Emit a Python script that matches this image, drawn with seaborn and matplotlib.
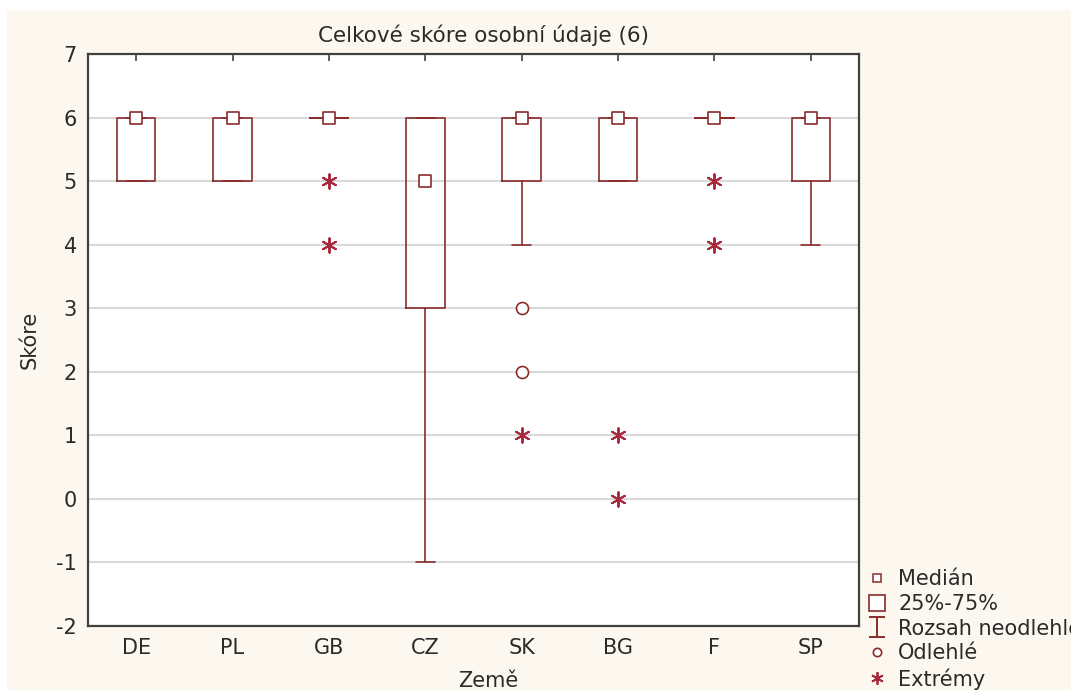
import numpy as np
import pandas as pd
import matplotlib
matplotlib.use('Agg')
import matplotlib.pyplot as plt
import seaborn as sns
from matplotlib.lines import Line2D
from matplotlib.patches import Rectangle
from matplotlib.path import Path

countries = ['DE', 'PL', 'GB', 'CZ', 'SK', 'BG', 'F', 'SP']
medians = [6, 6, 6, 5, 6, 6, 6, 6]
q1 = [5, 5, 6, 3, 5, 5, 6, 5]
q3 = [6, 6, 6, 6, 6, 6, 6, 6]
whisker_lo = [5, 5, 6, -1, 4, 5, 6, 4]
whisker_hi = [6, 6, 6, 6, 6, 6, 6, 6]

outlier_country = ['SK', 'SK']
outlier_value = [3, 2]
extreme_country = ['GB', 'GB', 'SK', 'BG', 'BG', 'F', 'F']
extreme_value = [5, 4, 1, 1, 0, 5, 4]

dark_red = '#8a2b2b'
star_red = '#a8273a'
cream = '#fdf8ef'
text_col = '#2a2a2a'

sns.set_style('white')
plt.rcParams['font.family'] = ['DejaVu Sans']
plt.rcParams['axes.unicode_minus'] = False

fig = plt.figure(figsize=(10.71, 6.9), dpi=100)
fig.patch.set_facecolor('white')
fig.add_artist(Rectangle((7 / 1071, 0), 1, 1 - 10 / 690, transform=fig.transFigure,
                         facecolor=cream, edgecolor='none', zorder=-10))
ax = fig.add_axes([88 / 1071, 1 - 626 / 690, 771 / 1071, 572 / 690])
ax.set_facecolor('white')

# boxes and whiskers from summary stats
stats = [dict(med=m, q1=a, q3=b, whislo=lo, whishi=hi, fliers=[])
         for m, a, b, lo, hi in zip(medians, q1, q3, whisker_lo, whisker_hi)]
line_kw = dict(color=dark_red, linewidth=1.2)
ax.bxp(stats, positions=range(len(countries)), widths=0.4, showfliers=False,
       boxprops=line_kw, whiskerprops=line_kw, capprops=line_kw,
       medianprops=dict(linewidth=0), manage_ticks=False, capwidths=0.2)

pos = {c: i for i, c in enumerate(countries)}
med_df = pd.DataFrame({'x': range(len(countries)), 'y': medians})
out_df = pd.DataFrame({'x': [pos[c] for c in outlier_country], 'y': outlier_value})
ext_df = pd.DataFrame({'x': [pos[c] for c in extreme_country], 'y': extreme_value})

sns.scatterplot(data=med_df, x='x', y='y', marker='s', s=70, color='white',
                edgecolor=dark_red, linewidth=1.2, zorder=5, ax=ax)
sns.scatterplot(data=out_df, x='x', y='y', marker='o', s=75, color='white',
                edgecolor=dark_red, linewidth=1.2, zorder=5, ax=ax)
sns.scatterplot(data=ext_df, x='x', y='y', marker=(6, 2, 0), s=110, color=star_red,
                linewidth=1.4, zorder=5, ax=ax)

ax.set_xlim(-0.5, len(countries) - 0.5)
ax.set_ylim(-2, 7)
ax.set_yticks(range(-2, 8))
ax.set_xticks(range(len(countries)))
ax.set_xticklabels(countries)
ax.yaxis.grid(True, color='#d9d9d9', linewidth=1.5)
ax.set_axisbelow(True)
for s in ax.spines.values():
    s.set_color('#404040')
    s.set_linewidth(1.6)
ax.tick_params(axis='x', direction='in', top=True, length=5, width=1.2,
               colors='#404040', labelsize=15, labelcolor=text_col, pad=9)
ax.tick_params(axis='y', direction='in', length=5, width=1.2,
               colors='#404040', labelsize=15, labelcolor=text_col, pad=8)

ax.set_xlabel('Země', fontsize=15, color=text_col)
ax.xaxis.set_label_coords((488 - 88) / 771, -0.078)
ax.set_ylabel('Skóre', fontsize=15, color=text_col)
ax.yaxis.set_label_coords(-0.063, 0.5)
ax.set_title('Celkové skóre osobní údaje (6)', fontsize=15.5, color=text_col,
             x=(484 - 88) / 771, pad=9)

# legend (last label runs past the right edge, as in the original)
whisk = Path([(-0.8, 1), (0.8, 1), (0, 1), (0, -1), (-0.8, -1), (0.8, -1)],
             [Path.MOVETO, Path.LINETO, Path.MOVETO, Path.LINETO, Path.MOVETO, Path.LINETO])
handles = [
    Line2D([], [], ls='none', marker='s', ms=6, mfc='white', mec=dark_red, mew=1.1),
    Line2D([], [], ls='none', marker='s', ms=12, mfc='white', mec=dark_red, mew=1.2),
    Line2D([], [], ls='none', marker=whisk, ms=15, mec=dark_red, mew=1.4),
    Line2D([], [], ls='none', marker='o', ms=6, mfc='white', mec=dark_red, mew=1.2),
    Line2D([], [], ls='none', marker=(6, 2, 0), ms=9, mec=star_red, mew=1.3),
]
labels = ['Medián', '25%-75%', 'Rozsah neodlehlé', 'Odlehlé', 'Extrémy']
fig.legend(handles, labels, loc='upper left', bbox_to_anchor=(867 / 1071, 1 - 569 / 690),
           frameon=False, fontsize=15, handlelength=1.0, handletextpad=0.5,
           labelspacing=0.23, borderpad=0, borderaxespad=0, labelcolor=text_col)

plt.savefig('out.png', dpi=100)
